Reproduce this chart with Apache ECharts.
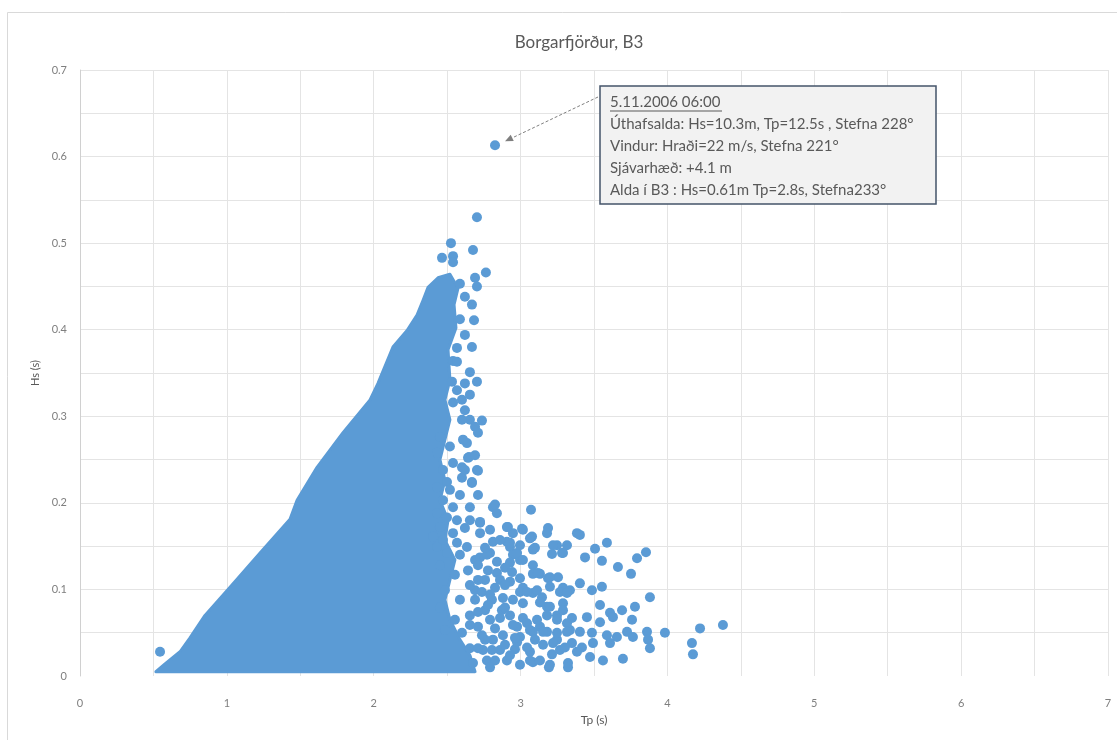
<!DOCTYPE html>
<html><head><meta charset="utf-8">
<script src="https://cdn.jsdelivr.net/npm/echarts@6/dist/echarts.min.js"></script>
<style>html,body{margin:0;padding:0;background:#fff}#c{width:1117px;height:740px}</style>
</head><body><div id="c"></div>
<script>
// ---- data ----
const chartTitle = 'Borgarfjörður, B3';
const xName = 'Tp (s)';
const yName = 'Hs (s)';
const xTickLabels = ['0','1','2','3','4','5','6','7'];
const yTickLabels = ['0','0.1','0.2','0.3','0.4','0.5','0.6','0.7'];

// outline of the solid (fully overlapping) core of the point cloud
const blobTp = [0.517,0.579,0.681,0.749,0.851,1.035,1.226,1.430,1.478,1.614,1.791,1.975,2.029,2.131,2.227,2.295,2.336,2.370,2.438,2.519,
                2.574,2.547,2.560,2.506,2.519,2.485,2.519,2.485,2.451,2.485,2.451,2.506,2.485,2.553,2.519,2.485,2.519,2.587,2.655,2.690];
const blobHs = [0.005,0.014,0.028,0.044,0.070,0.105,0.142,0.181,0.203,0.241,0.281,0.319,0.338,0.380,0.399,0.417,0.434,0.449,0.460,0.464,
                0.448,0.429,0.402,0.377,0.342,0.319,0.296,0.273,0.250,0.226,0.203,0.180,0.157,0.134,0.111,0.088,0.065,0.042,0.024,0.005];

// individual points outside the solid core
const pointTp = [0.545,2.703,
 2.526,2.676,2.465,2.540,2.540,2.764,2.690,2.703,2.587,2.621,2.669,2.587,2.683,2.621,2.669,2.567,2.540,2.567,2.655,2.533,2.621,2.703,2.567,2.601,2.540,2.737,2.655,2.601,2.690,2.710,2.635,2.642,2.703,2.601,2.601,2.669,2.587,2.655,2.812,2.839,2.724,2.621,2.724,2.914,2.948,2.812,2.928,2.792,2.948,
 2.451,2.519,2.431,2.540,2.472,2.499,2.431,2.519,2.472,2.540,2.431,2.499,2.567,2.451,2.540,2.404,2.472,2.567,2.635,2.431,2.499,2.587,2.724,
 2.649,2.710,2.669,2.826,3.071,3.010,3.187,3.180,3.384,3.404,3.078,2.907,3.248,3.316,3.098,3.588,3.507,3.214,3.282,3.439,3.554,3.793,3.854,3.663,3.752,2.996,3.084,2.839,3.084,3.132,3.187,3.255,3.404,3.486,3.554,3.289,3.336,3.016,3.084,3.146,3.881,3.541,3.289,3.180,3.691,3.779,3.609,3.248,3.350,3.452,3.541,3.629,3.759,3.016,3.044,3.132,3.180,3.336,3.404,3.486,3.588,3.656,3.725,3.861,3.983,4.222,4.378,3.868,2.996,3.084,3.248,3.350,3.418,3.493,3.609,3.765,3.881,4.167,4.174,2.962,3.064,3.214,3.268,3.384,3.473,3.561,3.697,3.084,3.193,3.323,2.907,2.860,
 2.724,2.907,3.016,3.064,2.928,3.084,3.221,3.289,2.976,2.771,2.839,2.928,3.016,3.118,3.200,2.928,2.996,3.044,3.112,3.200,3.268,3.316,2.880,2.948,3.016,3.132,3.200,3.289,2.873,2.928,3.112,3.180,3.248,3.316,2.976,3.064,3.153,3.248,3.316,2.880,2.812,2.976,3.044,3.153,3.221,3.302,2.744,2.928,3.064,3.200,3.323,2.771,2.676,
 2.451,2.553,2.642,2.485,2.587,2.690,2.451,2.553,2.655,2.758,2.485,2.601,2.710,2.792,2.655,2.758,2.805,2.758,2.690,
 2.710,2.778,2.894,2.655,2.737,2.826,2.690,2.778,2.655,2.737,2.826,2.710,2.826,2.996,3.132,2.792,2.894,3.098,2.860,2.948,2.758,2.860,2.996,
 2.621,2.710,2.655,2.792,2.621,2.655,2.608,2.690,
 2.860,2.942,2.792,2.894,2.710,2.805,2.962,2.710,2.894,2.996];
const pointHs = [0.028,0.530,
 0.500,0.492,0.483,0.485,0.478,0.466,0.460,0.450,0.453,0.438,0.429,0.412,0.411,0.394,0.380,0.379,0.364,0.363,0.351,0.340,0.338,0.340,0.330,0.319,0.316,0.295,0.296,0.296,0.288,0.281,0.269,0.252,0.238,0.241,0.229,0.224,0.209,0.195,0.195,0.188,0.177,0.171,0.165,0.172,0.165,0.155,0.149,0.142,0.140,
 0.276,0.265,0.258,0.246,0.238,0.224,0.218,0.215,0.203,0.195,0.188,0.183,0.180,0.172,0.165,0.161,0.157,0.154,0.149,0.149,0.142,0.140,0.137,
 0.253,0.237,0.223,0.198,0.192,0.170,0.171,0.165,0.165,0.163,0.161,0.155,0.151,0.151,0.148,0.154,0.147,0.141,0.142,0.137,0.133,0.136,0.143,0.126,0.118,0.134,0.128,0.119,0.118,0.118,0.113,0.114,0.107,0.099,0.103,0.102,0.099,0.102,0.096,0.091,0.091,0.082,0.084,0.080,0.076,0.080,0.073,0.070,0.067,0.068,0.062,0.068,0.065,0.067,0.061,0.057,0.051,0.053,0.051,0.050,0.047,0.045,0.051,0.051,0.050,0.055,0.059,0.042,0.045,0.051,0.042,0.038,0.033,0.038,0.038,0.045,0.032,0.038,0.025,0.031,0.028,0.025,0.030,0.028,0.022,0.018,0.020,0.016,0.010,0.010,0.018,0.030,
 0.178,0.172,0.169,0.159,0.154,0.146,0.151,0.142,0.142,0.140,0.132,0.131,0.134,0.119,0.114,0.109,0.097,0.097,0.099,0.103,0.097,0.096,0.090,0.088,0.084,0.085,0.080,0.076,0.076,0.070,0.065,0.070,0.065,0.061,0.057,0.053,0.051,0.050,0.051,0.047,0.042,0.039,0.033,0.036,0.038,0.033,0.030,0.024,0.018,0.013,0.015,0.018,0.015,
 0.128,0.117,0.122,0.099,0.088,0.099,0.079,0.065,0.070,0.076,0.053,0.050,0.057,0.065,0.032,0.042,0.088,0.111,0.134,
 0.128,0.122,0.125,0.105,0.097,0.102,0.088,0.082,0.059,0.047,0.055,0.032,0.018,0.013,0.018,0.010,0.036,0.042,0.067,0.059,0.148,0.157,0.151,
 0.238,0.209,0.180,0.169,0.307,0.325,0.273,0.255,
 0.111,0.120,0.094,0.079,0.074,0.030,0.044,0.111,0.105,0.113];

// annotated event
const eventTp = 2.826, eventHs = 0.613;
const noteLines = [
  '5.11.2006 06:00',
  'Úthafsalda: Hs=10.3m, Tp=12.5s , Stefna 228°',
  'Vindur: Hraði=22 m/s, Stefna 221°',
  'Sjávarhæð: +4.1 m',
  'Alda í B3 : Hs=0.61m Tp=2.8s, Stefna233°'
];

// ---- chart ----
const BLUE = '#5B9BD5';
const FONT = 'Lato, "Open Sans", sans-serif';
const chart = echarts.init(document.getElementById('c'), null, {renderer:'canvas'});
const pts = pointTp.map((t,i)=>[t, pointHs[i]]);
pts.push([eventTp, eventHs]);

chart.setOption({
  backgroundColor:'#ffffff',
  animation:false,
  textStyle:{fontFamily:FONT},
  title:{text:chartTitle, left:574, top:29, textAlign:'center',
    textStyle:{fontFamily:FONT, fontSize:17, fontWeight:'normal', color:'#595959'}},
  grid:{left:80, right:9, top:70, bottom:64, containLabel:false},
  xAxis:{type:'value', min:0, max:7, interval:0.5,
    name:xName, nameLocation:'middle', nameGap:36,
    nameTextStyle:{fontFamily:FONT, fontSize:12, color:'#595959'},
    axisLine:{show:false}, axisTick:{show:false},
    axisLabel:{margin:22, fontSize:11, color:'#7f7f7f', fontFamily:FONT,
      formatter:v=>{const k=Math.round(v*2); return k%2===0 ? xTickLabels[k/2] : '';}},
    splitLine:{show:true, lineStyle:{color:'#e4e4e4', width:1}}
  },
  yAxis:{type:'value', min:0, max:0.7, interval:0.05,
    name:yName, nameLocation:'middle', nameGap:38, nameRotate:90,
    nameTextStyle:{fontFamily:FONT, fontSize:11, color:'#595959'},
    axisLine:{show:true, lineStyle:{color:'#d0d0d0'}}, axisTick:{show:false},
    axisLabel:{margin:13, fontSize:11, color:'#7f7f7f', fontFamily:FONT,
      formatter:v=>{const k=Math.round(v*20); return k%2===0 ? yTickLabels[k/2] : '';}},
    splitLine:{show:true, showMinLine:false, lineStyle:{color:'#e4e4e4', width:1}}
  },
  series:[
    {type:'custom', silent:true, z:2, data:[[blobTp[0], blobHs[0]]],
     renderItem:(params, api)=>({type:'polygon',
       shape:{points: blobTp.map((t,i)=>api.coord([t, blobHs[i]]))},
       style:{fill:BLUE, stroke:BLUE, lineWidth:3, lineJoin:'round'}})},
    {type:'scatter', z:3, data:pts, symbol:'circle', symbolSize:10,
     itemStyle:{color:BLUE, opacity:1}, silent:true}
  ]
});

// annotation box + arrow
const p = chart.convertToPixel({gridIndex:0}, [eventTp, eventHs]);
const start = [598, 97];
const tip = [p[0]+10, p[1]-4];
const dx = tip[0]-start[0], dy = tip[1]-start[1];
const L = Math.hypot(dx,dy), ux = dx/L, uy = dy/L;
const hl = 8, hw = 3.5;
const base = [tip[0]-ux*hl, tip[1]-uy*hl];
const graphics = [
  {type:'rect', shape:{x:7.5, y:12.5, width:1200, height:800}, style:{fill:'none', stroke:'#d9d9d9', lineWidth:1}, silent:true, z:-1},
  {type:'line', shape:{x1:start[0], y1:start[1], x2:base[0], y2:base[1]}, style:{stroke:'#7f7f7f', lineWidth:1, lineDash:[3,2]}, z:10},
  {type:'polygon', shape:{points:[tip, [base[0]-uy*hw, base[1]+ux*hw], [base[0]+uy*hw, base[1]-ux*hw]]}, style:{fill:'#7f7f7f'}, z:10},
  {type:'rect', shape:{x:600, y:86, width:336, height:118}, style:{fill:'#f2f2f2', stroke:'#44546a', lineWidth:1.5}, z:10}
];
noteLines.forEach((t,i)=>{
  graphics.push({type:'text', x:610, y:102+i*22, z:11,
    style:{text:t, fill:'#595959', font:'15px '+FONT, textVerticalAlign:'middle', textAlign:'left'}});
});
graphics.push({type:'line', shape:{x1:610, y1:111, x2:722, y2:111}, style:{stroke:'#595959', lineWidth:1}, z:11});
chart.setOption({graphic:graphics});
</script></body></html>
